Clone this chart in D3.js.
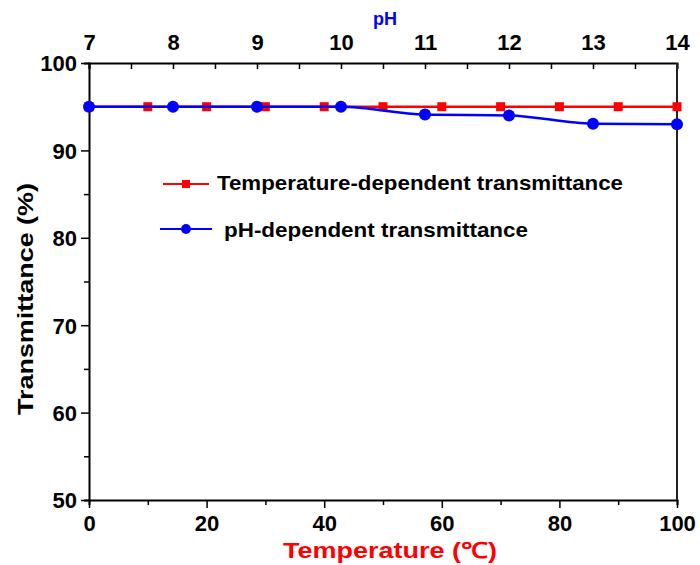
<!DOCTYPE html>
<html>
<head>
<meta charset="utf-8">
<script src="https://cdn.jsdelivr.net/npm/d3@7"></script>
<style>
  body { margin: 0; background: #fff; }
  text { font-family: "Liberation Sans", Arial, sans-serif; font-weight: bold; }
</style>
</head>
<body>
<script>
// Data.
var tempX = [0, 10, 20, 30, 40, 50, 60, 70, 80, 90, 100];
var tempY = [95, 95, 95, 95, 95, 95, 95, 95, 95, 95, 95];
var phX = [7, 8, 9, 10, 11, 12, 13, 14];
var phY = [95, 95, 95, 95, 94.1, 94.0, 93.05, 93.0];
var yTicks = [50, 60, 70, 80, 90, 100];
var tempTicks = [0, 20, 40, 60, 80, 100];
var phTicks = [7, 8, 9, 10, 11, 12, 13, 14];

var width = 700, height = 565;
var mLeft = 89, mRight = 677, mTop = 63, mBottom = 500;

var svg = d3.select("body")
  .append("svg")
  .attr("width", width)
  .attr("height", height);

var xT = d3.scaleLinear().domain([0, 100]).range([mLeft, mRight]);
var xP = d3.scaleLinear().domain([7, 14]).range([mLeft, mRight]);
var y = d3.scaleLinear().domain([50, 100]).range([mBottom, mTop]);

// Bottom axis (temperature)
var gB = svg.append("g").attr("transform", "translate(0," + mBottom + ")");
gB.call(d3.axisBottom(xT).tickValues(d3.range(0, 101, 10)).tickSize(5).tickFormat(""));
gB.selectAll(".tick line").attr("y2", function(d){ return tempTicks.indexOf(d) >= 0 ? 8 : 5; });
gB.selectAll(".tick").filter(function(d){ return tempTicks.indexOf(d) >= 0; })
  .append("text")
  .attr("y", 31)
  .attr("fill", "#000")
  .attr("text-anchor", "middle")
  .style("font-size", "22px")
  .text(function(d){ return d; });

// Top axis (pH), ticks pointing inward
var gT = svg.append("g").attr("transform", "translate(0," + mTop + ")");
gT.call(d3.axisBottom(xP).tickValues(d3.range(7, 14.01, 0.5)).tickSize(6).tickFormat(""));
gT.selectAll(".tick").filter(function(d){ return phTicks.indexOf(d) >= 0; })
  .append("text")
  .attr("y", -13)
  .attr("fill", "#000")
  .attr("text-anchor", "middle")
  .style("font-size", "22px")
  .text(function(d){ return d; });

// Left axis
var gL = svg.append("g").attr("transform", "translate(" + mLeft + ",0)");
gL.call(d3.axisLeft(y).tickValues(d3.range(50, 100.1, 5)).tickSize(5).tickFormat(""));
gL.selectAll(".tick line").attr("x2", function(d){ return yTicks.indexOf(d) >= 0 ? -8 : -5; });
gL.selectAll(".tick").filter(function(d){ return yTicks.indexOf(d) >= 0; })
  .append("text")
  .attr("x", -12)
  .attr("dy", "0.36em")
  .attr("fill", "#000")
  .attr("text-anchor", "end")
  .style("font-size", "22px")
  .text(function(d){ return d; });

svg.selectAll(".domain").attr("stroke", "#000").attr("stroke-width", 2);
svg.selectAll(".tick line").attr("stroke", "#000").attr("stroke-width", 1.5);

// Right axis line
svg.append("line")
  .attr("x1", mRight).attr("x2", mRight)
  .attr("y1", mTop).attr("y2", mBottom)
  .attr("stroke", "#222")
  .attr("stroke-width", 2);

// Temperature series
var tData = tempX.map(function(d, i){ return [d, tempY[i]]; });
svg.append("path")
  .datum(tData)
  .attr("fill", "none")
  .attr("stroke", "#ff0000")
  .attr("stroke-width", 2.5)
  .attr("d", d3.line().x(function(d){ return xT(d[0]); }).y(function(d){ return y(d[1]); }));
svg.selectAll("rect.tm")
  .data(tData)
  .enter()
  .append("rect")
  .attr("class", "tm")
  .attr("x", function(d){ return xT(d[0]) - 4.5; })
  .attr("y", function(d){ return y(d[1]) - 4.5; })
  .attr("width", 9)
  .attr("height", 9)
  .attr("fill", "#ff0000");

// pH series
var pData = phX.map(function(d, i){ return [d, phY[i]]; });
svg.append("path")
  .datum(pData)
  .attr("fill", "none")
  .attr("stroke", "#0000ff")
  .attr("stroke-width", 2.5)
  .attr("d", d3.line().curve(d3.curveMonotoneX)
    .x(function(d){ return xP(d[0]); }).y(function(d){ return y(d[1]); }));
svg.selectAll("circle.pm")
  .data(pData)
  .enter()
  .append("circle")
  .attr("class", "pm")
  .attr("cx", function(d){ return xP(d[0]); })
  .attr("cy", function(d){ return y(d[1]); })
  .attr("r", 6)
  .attr("fill", "#0000ff");

// Legend
var lg = svg.append("g");
lg.append("line").attr("x1", 163).attr("x2", 209).attr("y1", 184).attr("y2", 184)
  .attr("stroke", "#ff0000").attr("stroke-width", 2);
lg.append("rect").attr("x", 182).attr("y", 180).attr("width", 8).attr("height", 8).attr("fill", "#ff0000");
lg.append("text").attr("x", 217).attr("y", 190).style("font-size", "21px").attr("fill", "#000")
  .attr("textLength", 406).attr("lengthAdjust", "spacingAndGlyphs")
  .text("Temperature-dependent transmittance");
lg.append("line").attr("x1", 160).attr("x2", 212).attr("y1", 229).attr("y2", 229)
  .attr("stroke", "#0000ff").attr("stroke-width", 2);
lg.append("circle").attr("cx", 186).attr("cy", 229).attr("r", 5).attr("fill", "#0000ff");
lg.append("text").attr("x", 224).attr("y", 237).style("font-size", "21px").attr("fill", "#000")
  .attr("textLength", 304).attr("lengthAdjust", "spacingAndGlyphs")
  .text("pH-dependent transmittance");

// Axis titles
svg.append("text")
  .attr("x", 390)
  .attr("y", 558)
  .attr("text-anchor", "middle")
  .attr("fill", "#ff0000")
  .style("font-size", "22px")
  .attr("textLength", 214).attr("lengthAdjust", "spacingAndGlyphs")
  .text("Temperature (℃)");
svg.append("text")
  .attr("transform", "translate(33,299) rotate(-90)")
  .attr("text-anchor", "middle")
  .attr("fill", "#000")
  .style("font-size", "22px")
  .attr("textLength", 232).attr("lengthAdjust", "spacingAndGlyphs")
  .text("Transmittance (%)");
svg.append("text")
  .attr("x", 385)
  .attr("y", 25)
  .attr("text-anchor", "middle")
  .attr("fill", "#0000ff")
  .style("font-size", "18px")
  .text("pH");
</script>
</body>
</html>
